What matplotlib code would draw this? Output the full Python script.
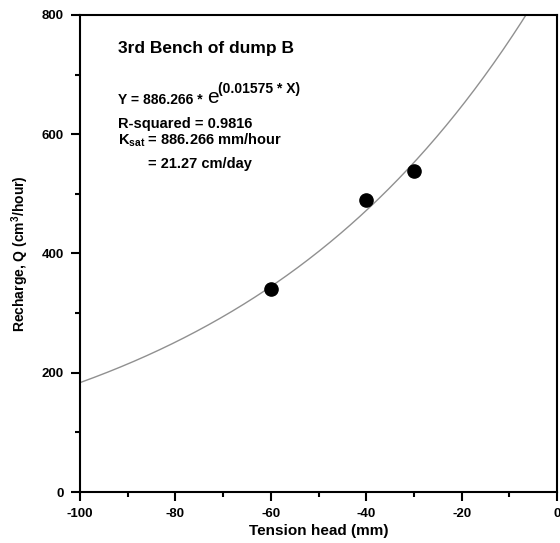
import matplotlib

matplotlib.use("Agg")
import matplotlib.pyplot as plt
import numpy as np
from matplotlib.ticker import MultipleLocator

# measured points
tension_mm = [-60, -40, -30]
recharge = [340, 490, 538]

# fitted curve Y = a * exp(b * X)
fit_a = 886.266
fit_b = 0.01575

x_ticks = [-100, -80, -60, -40, -20, 0]
y_ticks = [0, 200, 400, 600, 800]

plt.rcParams.update({
    "font.family": "Liberation Sans",
    "font.weight": "bold",
    "axes.unicode_minus": False,
    "mathtext.fontset": "custom",
    "mathtext.rm": "Liberation Sans:bold",
    "mathtext.it": "Liberation Sans:bold",
    "mathtext.bf": "Liberation Sans:bold",
})

fig = plt.figure(figsize=(5.6, 5.43), dpi=100)
ax = fig.add_axes([0.1429, 0.0939, 0.8517, 0.8785])

xs = np.linspace(-100, 0, 400)
ax.plot(xs, fit_a * np.exp(fit_b * xs), color="#909090", linewidth=1.0)
ax.plot(tension_mm, recharge, "o", color="black", markersize=9.5, zorder=5)

ax.set_xlim(-100, 0)
ax.set_ylim(0, 800)
ax.set_xticks(x_ticks)
ax.set_yticks(y_ticks)
ax.xaxis.set_minor_locator(MultipleLocator(10))
ax.yaxis.set_minor_locator(MultipleLocator(100))
ax.tick_params(which="major", direction="out", length=6.5, width=1.5,
               labelsize=9.5, pad=5)
ax.tick_params(which="minor", direction="out", length=3.5, width=1.5)
ax.tick_params(top=False, right=False)
for lab in ax.get_xticklabels() + ax.get_yticklabels():
    lab.set_fontweight("bold")
for sp in ax.spines.values():
    sp.set_linewidth(1.5)

ax.set_xlabel("Tension head (mm)", fontsize=11, fontweight="bold", labelpad=3)
ax.set_ylabel("Recharge, Q (cm$^3$/hour)", fontsize=10, fontweight="bold",
              labelpad=8)

ax.text(-92, 743, "3rd Bench of dump B", fontsize=12.5, fontweight="bold",
        va="center", ha="left")
t_eq = ax.text(-92, 651, "Y = 886.266 * ", fontsize=10, fontweight="bold",
               va="baseline", ha="left")
t_e = ax.annotate("e", xy=(1, 0), xycoords=t_eq, fontsize=15,
                  fontweight="normal", va="bottom", ha="left")
ax.annotate("(0.01575 * X)", xy=(1, 0.55), xycoords=t_e, fontsize=10,
            fontweight="bold", va="bottom", ha="left")
ax.text(-92, 618, "R-squared = 0.9816", fontsize=10.5, fontweight="bold",
        va="center", ha="left")
ax.text(-92, 590, r"K$_{\rm sat}$ = 886.266 mm/hour", fontsize=10.5,
        fontweight="bold", va="center", ha="left")
ax.text(-85.7, 550, "= 21.27 cm/day", fontsize=10.5, fontweight="bold",
        va="center", ha="left")

fig.savefig("out.png", dpi=100)
